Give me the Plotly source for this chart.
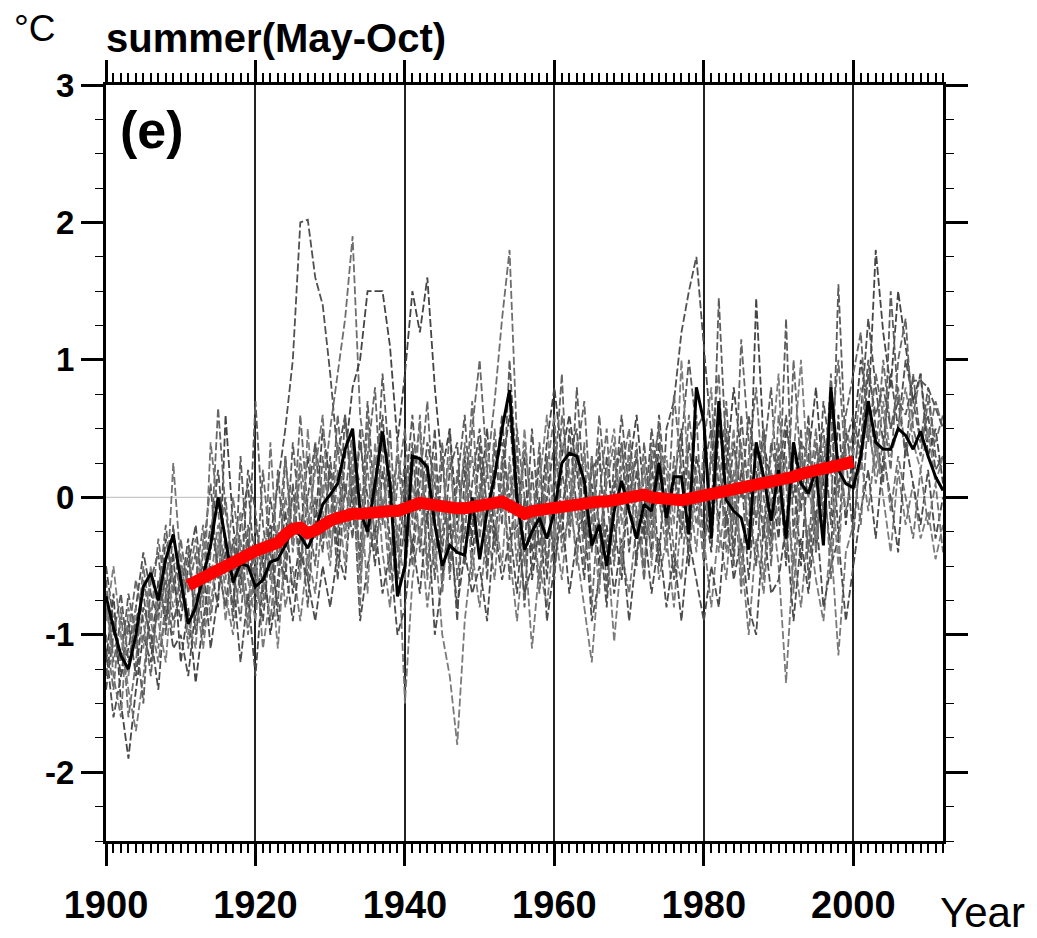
import plotly.graph_objects as go

# ---- data -------------------------------------------------------------
years = list(range(1900, 2013))

# observed summer (May-Oct) temperature anomaly, deg C
observed = [
    -0.72, -0.95, -1.15, -1.25, -1.00, -0.65, -0.55, -0.75, -0.45, -0.27,
    -0.60, -0.92, -0.80, -0.58, -0.35, 0.00, -0.30, -0.62, -0.48, -0.50,
    -0.65, -0.60, -0.47, -0.45, -0.35, -0.22, -0.28, -0.37, -0.25, -0.05,
    0.02, 0.10, 0.35, 0.50, -0.10, -0.25, 0.10, 0.48, 0.10, -0.72,
    -0.50, 0.30, 0.28, 0.22, -0.20, -0.50, -0.35, -0.40, -0.42, 0.00,
    -0.45, -0.10, 0.15, 0.50, 0.78, -0.02, -0.38, -0.25, -0.15, -0.30,
    -0.10, 0.25, 0.32, 0.30, 0.12, -0.35, -0.20, -0.50, -0.10, 0.12,
    -0.10, -0.30, -0.05, -0.10, 0.25, -0.15, 0.15, 0.15, -0.27, 0.80,
    0.55, -0.30, 0.70, -0.02, -0.10, -0.15, -0.38, 0.40, 0.15, -0.17,
    0.20, -0.30, 0.40, 0.10, 0.03, 0.20, -0.35, 0.80, 0.20, 0.10,
    0.07, 0.30, 0.70, 0.40, 0.35, 0.35, 0.50, 0.45, 0.35, 0.48, 0.30, 0.15, 0.05,
]

# smoothed long-term curve, 1911-2000
trend_years = list(range(1911, 2001))
trend = [
    -0.64, -0.61, -0.58, -0.55, -0.52, -0.49, -0.46, -0.43, -0.41,
    -0.39, -0.37, -0.35, -0.33, -0.27, -0.23, -0.22, -0.26, -0.24, -0.20,
    -0.17, -0.15, -0.13, -0.12, -0.12, -0.11, -0.11, -0.11, -0.10, -0.10,
    -0.09, -0.06, -0.04, -0.05, -0.07, -0.08, -0.08, -0.08, -0.08, -0.07,
    -0.06, -0.05, -0.03, -0.03, -0.06, -0.10, -0.12, -0.10, -0.09, -0.08,
    -0.07, -0.06, -0.05, -0.05, -0.04, -0.04, -0.03, -0.03, -0.02, -0.01,
    0.01, 0.03, 0.02, 0.00, -0.01, -0.01, -0.02, -0.02, -0.01, 0.00,
    0.03, 0.03, 0.04, 0.05, 0.06, 0.07, 0.08, 0.09, 0.10, 0.11,
    0.12, 0.14, 0.15, 0.17, 0.19, 0.20, 0.21, 0.22, 0.23, 0.24,
    0.26,
]

# individual reconstructions / ensemble members (dashed)
member_01 = [
    -0.5, -0.9, -1.3, -1.1, -0.8, -0.4, -0.7, -0.9, -0.3, -0.6,
    -0.9, -0.5, -0.2, -0.7, -0.3, 0.2, -0.4, -0.8, -0.2, 0.1,
    -0.6, -0.9, -0.3, 0.1, 0.5, 1.0, 2.0, 2.02, 1.6, 1.4,
    0.9, 0.3, 0.6, -0.1, 0.4, 0.0, -0.5, 0.2, -0.3, -0.6,
    0.1, -0.4, 0.3, -0.2, 0.5, -0.6, -0.1, -0.9, 0.2, -0.3,
    0.4, -0.5, 0.1, 0.6, -0.2, -0.7, 0.0, -0.4, 0.3, -0.6,
    0.2, -0.3, 0.5, -0.1, -0.6, 0.3, -0.2, -0.8, 0.1, 0.4,
    -0.4, 0.2, -0.3, 0.3, -0.5, 0.5, 0.7, 1.2, 1.5, 1.75,
    1.1, 0.4, -0.2, 0.5, -0.4, 0.2, -0.6, 0.1, 0.5, -0.3,
    0.3, -0.5, 0.4, -0.1, 0.6, -0.4, 0.2, 0.7, -0.3, 0.5,
    0.1, 0.6, 1.3, 0.8, 0.4, 0.9, 0.5, 1.0, 0.7, 0.4, 0.6, 0.2, 0.3,
]
member_02 = [
    -1.0, -1.4, -0.8, -1.6, -1.2, -0.6, -0.9, -0.3, -0.7, -1.0,
    -0.5, -1.1, -0.6, -0.2, -0.9, -0.4, 0.0, -0.6, -0.3, -0.8,
    -0.2, -0.5, -0.9, -0.3, 0.3, -0.4, 0.2, -0.6, 0.4, 0.0,
    0.5, 0.9, 1.3, 1.9, 0.6, 0.2, -0.3, 0.4, -0.5, 0.1,
    0.5, -0.2, 0.6, -0.5, 0.0, -0.3, 0.5, -0.6, -0.1, 0.7,
    -0.3, 0.2, 0.7, 1.3, 1.8, 0.4, -0.5, -0.1, -0.7, 0.0,
    -0.4, 0.6, 0.1, -0.5, 0.4, -0.8, 0.0, 0.5, -0.4, 0.2,
    0.5, -0.1, -0.6, 0.4, 0.0, -0.4, 0.3, -0.2, 0.6, 0.1,
    -0.5, 0.4, 0.9, -0.3, 0.2, -0.7, 0.3, 0.8, 0.0, -0.4,
    0.6, 0.1, -0.5, 0.3, 0.0, 0.5, -0.2, 0.4, 1.0, 0.2,
    0.5, 0.2, 0.7, 0.3, 1.0, 0.5, 0.8, 0.3, 0.6, 0.9, 0.4, 0.7, 0.5,
]
member_03 = [
    -1.2, -0.7, -1.5, -1.9, -1.4, -1.0, -1.2, -0.6, -0.9, -0.4,
    -1.2, -0.8, -1.35, -0.9, -0.5, -0.8, 0.6, -0.2, -0.6, -0.3,
    -0.8, -0.4, -1.0, -0.6, -0.1, -0.7, -0.3, 0.3, -0.2, 0.5,
    0.1, -0.4, 0.3, 0.8, 1.0, 1.5, 1.5, 1.5, 1.1, 0.4,
    0.9, 1.5, 1.2, 1.6, 0.8, 0.2, 0.5, -0.2, 0.3, -0.4,
    0.0, 0.5, -0.3, 0.2, 0.6, -0.1, 0.3, -0.6, -0.2, 0.4,
    0.8, 0.3, 0.6, 0.2, -0.3, 0.1, -0.5, 0.3, -0.2, -0.6,
    0.2, 0.6, 0.0, -0.4, 0.4, -0.2, 0.1, 0.5, -0.5, 0.3,
    0.0, -0.4, 0.5, 0.2, 0.8, 0.3, -0.3, 1.45, 0.4, 0.1,
    -0.3, 0.5, 0.2, -0.5, 0.3, 0.8, 0.1, -0.4, 0.6, -0.2,
    0.4, 1.0, 0.6, 1.8, 1.2, 0.8, 1.5, 1.1, 0.7, 0.9, 0.3, 0.5, 0.1,
]
member_04 = [
    -0.8, -1.1, -1.0, -1.4, -1.7, -1.3, -0.8, -1.1, -0.5, -0.8,
    -0.6, -1.0, -0.7, -1.1, -0.6, -0.2, -0.7, -1.0, -0.5, -0.9,
    -0.4, -1.1, -0.7, -0.2, -0.8, -0.5, -0.9, -0.4, -0.7, -0.1,
    -0.5, 0.2, -0.3, 0.4, -0.6, -0.1, 0.3, -0.4, -0.8, -0.2,
    -1.5, -0.6, -0.2, -0.8, -0.3, -1.0, -1.3, -1.8, -0.9, -0.4,
    -0.8, -0.2, -0.6, 0.1, -0.4, -0.9, -0.3, -1.1, -0.5, -0.8,
    -0.2, -0.6, 0.0, -0.4, -0.8, -1.2, -0.5, -0.3, -1.05, -0.4,
    -0.7, -0.2, -0.5, 0.1, -0.6, -0.3, -0.8, -0.1, -0.4, 0.2,
    -0.3, -0.8, -0.2, -0.6, 0.1, -0.4, -1.0, -0.3, -0.7, 0.0,
    -0.5, -1.35, -0.4, -0.8, -0.2, -0.6, -0.9, -0.3, -1.15, -0.4,
    -0.2, 0.3, -0.1, 0.4, 0.0, -0.4, 0.2, -0.2, 0.1, -0.3, -0.1, -0.45, -0.2,
]
member_05 = [
    -1.3, -0.9, -1.2, -0.7, -1.0, -1.5, -0.6, -0.4, -1.0, -0.2,
    -0.8, -0.4, -0.9, -0.4, 0.1, -0.6, -0.3, -0.9, 0.3, -0.5,
    0.7, -0.2, -0.6, 0.2, -0.5, 0.4, -0.2, -0.8, 0.0, -0.4,
    0.3, -0.3, 0.6, 0.0, -0.4, 0.7, -0.1, 0.9, 0.2, -0.6,
    -0.2, 0.4, -0.4, 0.2, -0.6, 0.3, -0.5, 0.1, 0.6, -0.2,
    0.3, -0.6, 0.4, -0.2, 1.0, 0.1, -0.8, 0.2, -0.4, 0.3,
    -0.6, 0.2, -0.2, 0.8, 0.0, -0.4, 0.4, -0.7, 0.3, -0.1,
    0.3, -0.5, 0.4, -0.2, 0.6, 0.0, -0.6, 0.4, 1.0, 0.5,
    0.6, -0.2, 1.45, 0.3, -0.5, 0.6, 0.0, -0.5, 0.3, 0.8,
    -0.1, 1.3, -0.3, 0.5, -0.6, 0.2, 0.5, -0.2, 1.55, 0.3,
    -0.3, 0.4, 1.0, 0.5, 0.1, 1.5, 0.7, 0.3, 0.9, 0.4, 0.8, 0.3, 0.2,
]
member_06 = [
    -0.6, -1.2, -0.9, -1.0, -0.6, -0.9, -1.3, -0.7, -0.2, -0.7,
    -0.3, -0.7, -0.4, -1.0, -0.4, 0.65, -0.1, -0.5, -0.9, -0.2,
    -0.7, 0.2, -0.4, -0.8, 0.3, -0.3, 0.6, -0.1, -0.5, 0.3,
    -0.2, 0.6, 0.0, 0.5, -0.5, 0.3, 0.8, -0.2, 0.5, -0.4,
    0.3, -0.5, 0.1, 0.7, -0.2, 0.4, -0.6, 0.2, -0.3, 0.5,
    1.0, 0.2, -0.4, 0.3, -0.6, 0.5, 0.0, -0.3, 0.4, -0.5,
    0.1, 0.9, -0.3, 0.3, 0.7, -0.2, 0.6, 0.0, -0.5, 0.4,
    -0.1, 0.4, -0.6, 0.2, 0.5, -0.3, 0.75, 0.2, -0.1, 0.6,
    -0.4, 0.3, 0.0, 0.7, -0.2, 1.15, 0.4, -0.2, 0.5, -0.5,
    0.4, -0.3, 1.0, 0.2, -0.4, 0.4, -0.1, 0.9, 0.0, 0.6,
    0.9, 1.2, 0.4, 0.9, 0.6, 0.2, 1.0, 1.3, 0.5, 0.3, 0.7, 0.4, 0.6,
]
member_07 = [
    -1.1, -1.6, -1.3, -0.9, -1.3, -0.8, -1.0, -1.4, -0.7, -1.1,
    -1.0, -1.3, -0.8, -0.5, -1.1, -0.7, -0.4, -0.6, -1.2, -0.7,
    -1.3, -0.6, -0.2, -0.9, -0.5, -0.9, -0.4, -0.6, -0.9, -0.5,
    -0.8, -0.4, -0.6, 0.2, -0.9, -0.5, -0.2, -0.7, -0.4, -1.0,
    -0.8, -0.3, -0.7, -0.1, -1.0, -0.6, -0.2, -0.8, -0.4, -0.7,
    -0.5, -0.9, -0.2, -0.6, -0.3, -0.2, -0.7, -0.5, 0.0, -0.9,
    -0.5, -0.1, -0.7, -0.3, -0.1, -0.9, -0.6, -0.2, -0.7, -0.3,
    -0.9, -0.4, -0.2, -0.7, -0.3, -0.8, -0.4, -0.9, -0.3, -0.6,
    -0.9, -0.5, -0.8, -0.1, -0.6, -0.3, -0.8, -1.0, -0.2, -0.7,
    -0.6, -0.2, -0.9, -0.3, -0.7, -0.1, -0.8, -0.5, -0.3, -0.9,
    -0.5, -0.1, 0.2, -0.3, 0.3, 0.0, -0.4, 0.4, 0.1, -0.2, 0.2, -0.3, 0.0,
]
member_08 = [
    -0.9, -0.5, -1.0, -1.3, -0.8, -1.1, -0.5, -0.9, -1.2, -0.5,
    -0.4, -0.9, -1.1, -0.3, -0.8, -0.3, -0.9, -0.4, -0.1, -0.6,
    -0.9, -0.3, -0.5, -1.1, -0.3, 0.0, -0.6, 0.5, -0.3, 0.1,
    -0.4, 0.0, -0.5, 0.3, 0.1, -0.7, 0.4, -0.1, 0.2, -0.3,
    -0.6, 0.1, -0.3, 0.3, -0.5, -0.1, 0.3, -0.4, 0.0, 0.3,
    -0.2, 0.4, -0.1, -0.5, 0.3, -0.3, 0.5, -0.2, 0.1, 0.6,
    -0.3, 0.4, 0.2, -0.2, 0.3, 0.0, -0.7, 0.2, 0.5, -0.2,
    0.1, -0.3, 0.3, -0.5, 0.2, 0.3, -0.2, 1.0, 0.1, -0.4,
    0.4, 0.8, -0.4, 0.0, 0.5, -0.6, 0.2, 0.4, -0.2, 0.3,
    0.9, -0.4, 0.3, 1.0, 0.1, -0.3, 0.4, 0.2, -0.5, 0.5,
    0.3, 0.8, 0.5, 0.2, 0.7, 0.3, 0.5, 0.8, 0.4, 0.2, 0.5, 0.1, 0.3,
]
member_09 = [
    -1.4, -1.0, -0.7, -1.2, -0.9, -0.7, -1.1, -0.8, -0.6, -0.9,
    -0.7, -0.3, -1.0, -0.6, -0.2, -0.5, -0.8, -0.3, -0.7, 0.2,
    -0.1, -0.7, 0.0, -0.4, -0.6, 0.1, -0.5, 0.0, 0.4, -0.3,
    0.2, -0.6, 0.1, -0.3, 0.5, -0.3, 0.0, 0.6, -0.1, 0.3,
    0.0, 0.6, -0.1, 0.4, 0.1, -0.4, 0.2, 0.4, -0.5, 0.1,
    0.5, -0.1, 0.2, 0.4, 0.0, 0.3, -0.4, 0.5, -0.2, 0.0,
    0.4, -0.1, 0.3, 0.5, -0.3, 0.2, 0.3, -0.4, 0.0, 0.6,
    0.0, 0.3, -0.2, 0.5, 0.1, -0.2, 0.2, -0.3, 0.4, -0.1,
    0.2, 0.5, 0.1, -0.2, 0.4, 0.0, 0.6, 0.2, -0.3, 0.4,
    0.1, 0.6, 0.0, 0.4, 0.3, -0.2, 0.7, 0.3, 0.1, 0.4,
    0.6, 0.3, 0.9, 0.6, 0.8, 0.5, 0.7, 0.6, 0.85, 0.85, 0.8, 0.65, 0.5,
]
member_10 = [
    -0.7, -1.3, -1.6, -0.8, -1.1, -0.5, -0.9, -1.2, -0.8, 0.25,
    -0.5, -0.6, -0.3, -0.8, 0.4, -0.1, -0.6, 0.0, -0.4, -1.0,
    -0.5, -0.8, 0.4, -0.5, 0.0, -0.3, 0.3, -0.2, 0.2, 0.6,
    -0.3, 0.4, -0.2, 0.2, -0.8, 0.6, -0.4, 0.0, -0.6, 0.4,
    -0.4, 0.2, 0.5, -0.6, 0.3, -0.7, 0.0, -0.3, 0.4, -0.6,
    0.1, -0.4, 0.5, -0.1, 0.2, -0.5, 0.4, -0.1, -0.6, 0.2,
    0.6, -0.4, -0.1, 0.4, -0.5, 0.3, -0.3, 0.1, 0.4, -0.5,
    0.4, -0.2, 0.2, -0.3, 0.3, 0.2, -0.4, -0.6, 0.2, -0.2,
    0.1, -0.3, 0.3, -0.4, -0.1, 0.4, -0.3, 0.1, -0.6, 0.2,
    -0.2, 0.3, -0.7, 0.1, 0.5, -0.4, 0.3, -0.6, 0.3, -0.1,
    0.2, -0.2, 0.6, 0.1, 0.4, -0.1, 0.3, 0.0, -0.3, 0.2, -0.2, 0.1, -0.4,
]
members = [member_01, member_02, member_03, member_04, member_05,
           member_06, member_07, member_08, member_09, member_10]

x_tick_vals = [1900, 1920, 1940, 1960, 1980, 2000]
x_tick_text = ["1900", "1920", "1940", "1960", "1980", "2000"]
y_tick_vals = [-2, -1, 0, 1, 2, 3]
y_tick_text = ["-2", "-1", "0", "1", "2", "3"]

# ---- figure -----------------------------------------------------------
W, H = 1037, 938
L, R, T, B = 106, 94, 85, 97
PW, PH = W - L - R, H - T - B


def px(xp):
    return (xp - L) / PW


def py(yp):
    return (H - B - yp) / PH


member_colors = ["#505050", "#6e6e6e", "#444444", "#7a7a7a", "#5c5c5c",
                 "#666666", "#4c4c4c", "#808080", "#575757", "#737373"]

fig = go.Figure()

# zero reference line
fig.add_shape(type="line", xref="paper", yref="y", x0=0, x1=1, y0=0, y1=0,
              line=dict(color="#c8c8c8", width=1.2), layer="below")

for i, m in enumerate(members):
    fig.add_trace(go.Scatter(
        x=years, y=m, mode="lines", showlegend=False, hoverinfo="skip",
        line=dict(color=member_colors[i], width=1.8, dash="8px,3px")))

fig.add_trace(go.Scatter(
    x=years, y=observed, mode="lines", showlegend=False,
    line=dict(color="black", width=3)))

fig.add_trace(go.Scatter(
    x=trend_years, y=trend, mode="lines", showlegend=False,
    line=dict(color="#ff0000", width=12)))

base_font = "Liberation Sans, Arial, sans-serif"

fig.update_layout(
    width=W, height=H,
    margin=dict(l=L, r=R, t=T, b=B, pad=0),
    paper_bgcolor="white", plot_bgcolor="white",
    xaxis=dict(
        range=[1900, 2012], tickmode="array",
        tickvals=x_tick_vals, ticktext=x_tick_text,
        ticks="outside", ticklen=22, tickwidth=2.5, tickcolor="black",
        ticklabelstandoff=6,
        showline=True, linewidth=3, linecolor="black", mirror="allticks",
        showgrid=True, gridcolor="#222222", gridwidth=1.6,
        zeroline=False,
        tickfont=dict(family=base_font, size=38, color="black", weight="bold"),
        minor=dict(dtick=1, tick0=1900, ticks="outside", ticklen=9,
                   tickwidth=1.5, tickcolor="black", showgrid=False),
    ),
    yaxis=dict(
        range=[-2.5, 3], tickmode="array",
        tickvals=y_tick_vals, ticktext=y_tick_text,
        ticks="outside", ticklen=22, tickwidth=2.5, tickcolor="black",
        showline=True, linewidth=3, linecolor="black", mirror="allticks",
        showgrid=False, zeroline=False,
        tickfont=dict(family=base_font, size=33, color="black", weight="bold"),
        minor=dict(dtick=0.25, tick0=0, ticks="outside", ticklen=8,
                   tickwidth=1.2, tickcolor="black", showgrid=False),
    ),
    annotations=[
        dict(text="°C", xref="paper", yref="paper", x=px(12), y=py(28),
             xanchor="left", yanchor="middle", showarrow=False,
             font=dict(family=base_font, size=37, color="black")),
        dict(text="<b>summer(May-Oct)</b>", xref="paper", yref="paper",
             x=px(104), y=py(38), xanchor="left", yanchor="middle",
             showarrow=False,
             font=dict(family=base_font, size=40, color="black")),
        dict(text="<b>(e)</b>", xref="paper", yref="paper",
             x=px(118), y=py(130), xanchor="left", yanchor="middle",
             showarrow=False,
             font=dict(family=base_font, size=52, color="black")),
        dict(text="Year", xref="paper", yref="paper",
             x=px(938), y=py(912), xanchor="left", yanchor="middle",
             showarrow=False,
             font=dict(family=base_font, size=42, color="black")),
    ],
)

fig.write_html("out.html")
